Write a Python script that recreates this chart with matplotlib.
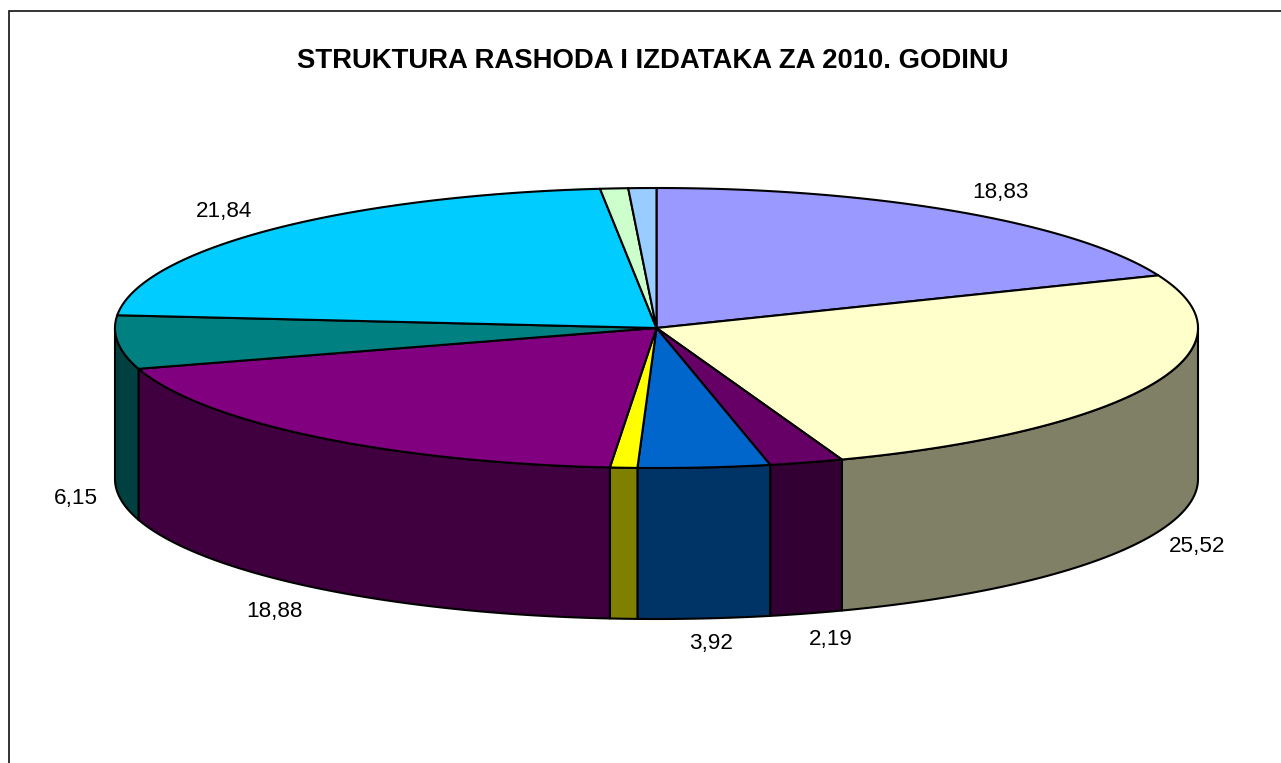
import numpy as np
import matplotlib
matplotlib.use("Agg")
import matplotlib.pyplot as plt
from matplotlib.patches import Polygon

title = "STRUKTURA RASHODA I IZDATAKA ZA 2010. GODINU"
values = [18.83, 25.52, 2.19, 3.92, 0.81, 18.88, 6.15, 21.84, 0.83, 0.83]
labels = ["18,83", "25,52", "2,19", "3,92", "", "18,88", "6,15", "21,84", "", ""]
top_colors = ["#9999FF", "#FFFFCC", "#660066", "#0066CC", "#FFFF00",
              "#800080", "#008080", "#00CCFF", "#CCFFCC", "#99CCFF"]
side_colors = ["#4C4C80", "#808066", "#330033", "#003366", "#808000",
               "#400040", "#004040", "#006680", "#668066", "#4C6680"]
label_positions = [(1000, 192.5), (1197, 546.5), (831, 639.5), (711, 643.5), None,
                   (274, 611.5), (76, 498.5), (224, 211.5), None, None]

W, H = 1281, 763
CX, CY, RX, RY, DEPTH = 656.5, 328.0, 541.5, 140.0, 151.0
LW = 1.5

fig = plt.figure(figsize=(W / 100, H / 100), dpi=100, facecolor="white")
ax = fig.add_axes([0, 0, 1, 1])
ax.set_xlim(0, W)
ax.set_ylim(H, 0)
ax.axis("off")


def rim(a0, a1, dy=0.0):
    t = np.radians(np.linspace(a0, a1, max(int(abs(a1 - a0) * 4), 2)))
    return np.column_stack([CX + RX * np.sin(t), CY + dy - RY * np.cos(t)])


plt.rcParams["font.family"] = ["Liberation Sans", "DejaVu Sans"]

# outer frame: only the top and left edges are visible
ax.plot([8.7, 8.7, W], [H, 11, 11], color="#111111", lw=1.2, solid_joinstyle="miter", zorder=1)

edges = 360 * np.cumsum([0] + values) / np.sum(values)

# front walls
for a0, a1, c in zip(edges[:-1], edges[1:], side_colors):
    s0, s1 = max(a0, 90), min(a1, 270)
    if s1 <= s0:
        continue
    pts = np.vstack([rim(s0, s1), rim(s1, s0, DEPTH)])
    ax.add_patch(Polygon(pts, closed=True, fc=c, ec="black", lw=LW, joinstyle="round", zorder=2))

# top faces
for a0, a1, c in zip(edges[:-1], edges[1:], top_colors):
    pts = np.vstack([[[CX, CY]], rim(a0, a1)])
    ax.add_patch(Polygon(pts, closed=True, fc=c, ec="black", lw=LW, joinstyle="round", zorder=3))

ax.text(653, 61, title, ha="center", va="center", fontsize=19.8, fontweight="bold",
        color="black", family=["Liberation Sans", "DejaVu Sans"])
for lab, pos in zip(labels, label_positions):
    if pos is not None:
        ax.text(pos[0], pos[1], lab, ha="center", va="center", fontsize=16.2,
                color="black", family=["Liberation Sans", "DejaVu Sans"])

fig.savefig("out.png", dpi=100, facecolor="white")
